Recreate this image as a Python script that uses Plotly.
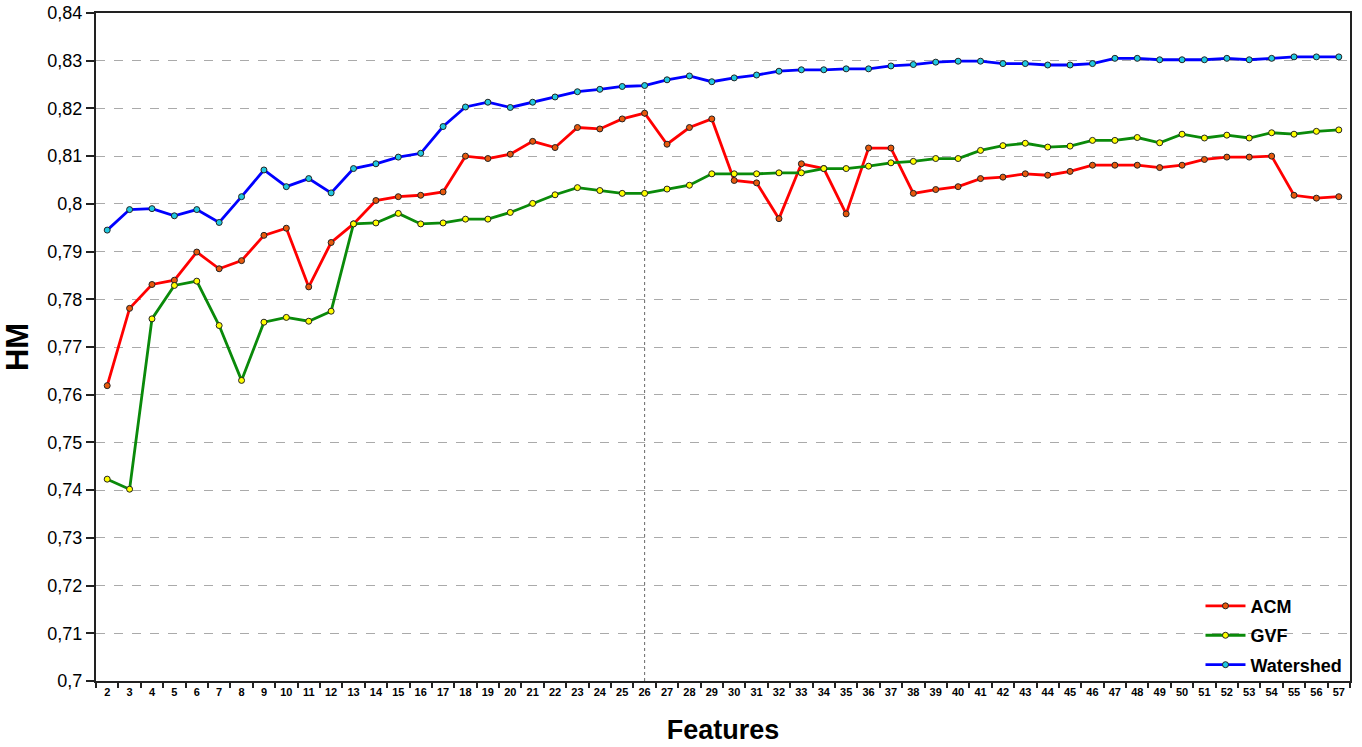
import plotly.graph_objects as go

features = [str(n) for n in range(2, 58)]

acm = [0.7619, 0.7781, 0.7831, 0.7840, 0.7899, 0.7864, 0.7881, 0.7934, 0.7949, 0.7826,
       0.7919, 0.7958, 0.8007, 0.8015, 0.8018, 0.8025, 0.8100, 0.8095, 0.8104, 0.8131,
       0.8118, 0.8160, 0.8157, 0.8178, 0.8190, 0.8125, 0.8160, 0.8178, 0.8049, 0.8044,
       0.7969, 0.8084, 0.8074, 0.7979, 0.8117, 0.8117, 0.8022, 0.8030, 0.8036, 0.8053,
       0.8056, 0.8063, 0.8060, 0.8068, 0.8081, 0.8081, 0.8081, 0.8076, 0.8081, 0.8093,
       0.8098, 0.8098, 0.8100, 0.8018, 0.8012, 0.8015]

gvf = [0.7423, 0.7402, 0.7759, 0.7829, 0.7838, 0.7745, 0.7630, 0.7752, 0.7762, 0.7754,
       0.7775, 0.7958, 0.7960, 0.7980, 0.7958, 0.7960, 0.7968, 0.7968, 0.7982, 0.8001,
       0.8019, 0.8034, 0.8028, 0.8022, 0.8022, 0.8031, 0.8039, 0.8063, 0.8063, 0.8063,
       0.8065, 0.8065, 0.8074, 0.8074, 0.8079, 0.8086, 0.8089, 0.8095, 0.8095, 0.8112,
       0.8122, 0.8127, 0.8119, 0.8121, 0.8133, 0.8133, 0.8139, 0.8128, 0.8146, 0.8138,
       0.8144, 0.8138, 0.8149, 0.8146, 0.8152, 0.8155]

watershed = [0.7945, 0.7988, 0.7990, 0.7975, 0.7988, 0.7961, 0.8015, 0.8071, 0.8036, 0.8053,
             0.8023, 0.8074, 0.8084, 0.8098, 0.8106, 0.8162, 0.8203, 0.8213, 0.8202, 0.8213,
             0.8224, 0.8235, 0.8240, 0.8246, 0.8248, 0.8260, 0.8268, 0.8256, 0.8264, 0.8270,
             0.8278, 0.8281, 0.8281, 0.8283, 0.8283, 0.8289, 0.8292, 0.8297, 0.8299, 0.8299,
             0.8294, 0.8294, 0.8291, 0.8291, 0.8294, 0.8305, 0.8305, 0.8302, 0.8302, 0.8302,
             0.8305, 0.8302, 0.8305, 0.8308, 0.8308, 0.8308]

y_ticks = [0.70, 0.71, 0.72, 0.73, 0.74, 0.75, 0.76, 0.77, 0.78, 0.79, 0.80,
           0.81, 0.82, 0.83, 0.84]
y_labels = ["0,7", "0,71", "0,72", "0,73", "0,74", "0,75", "0,76", "0,77", "0,78",
            "0,79", "0,8", "0,81", "0,82", "0,83", "0,84"]

marked_feature = "26"

series = [
    ("ACM", acm, "#ff0000", "#e8590c"),
    ("GVF", gvf, "#0a8a0a", "#ffff00"),
    ("Watershed", watershed, "#0000ff", "#20c8e0"),
]

fig = go.Figure()
for name, vals, lc, mc in series:
    fig.add_trace(go.Scatter(
        x=features, y=vals, name=name, mode="lines+markers",
        legendgroup=name,
        line=dict(color=lc, width=2.8),
        marker=dict(size=6, color=mc, line=dict(color="#222222", width=1)),
    ))

idx = features.index(marked_feature)
fig.add_shape(type="line", xref="x", yref="y",
              x0=idx, x1=idx, y0=y_ticks[0], y1=watershed[idx],
              line=dict(color="#666666", width=1, dash="dot"), layer="below")

fig.update_layout(
    width=1362, height=747,
    margin=dict(l=96, r=12, t=13, b=66, autoexpand=False),
    paper_bgcolor="white", plot_bgcolor="white",
    showlegend=True,
    legend=dict(
        x=0.998, y=-0.004, xanchor="right", yanchor="bottom",
        font=dict(family="Liberation Sans, Arial", size=18, color="#000000",
                  weight="bold"),
        bgcolor="rgba(255,255,255,0)",
        traceorder="grouped", tracegroupgap=3,
        itemwidth=40,
    ),
    xaxis=dict(
        type="category",
        range=[-0.5, len(features) - 0.5],
        tickson="boundaries",
        tickangle=0, automargin=False,
        ticks="outside", ticklen=5, tickwidth=1.5, tickcolor="#222222",
        tickfont=dict(family="Liberation Sans Narrow, Liberation Sans, Arial", size=11,
                      color="#000000", weight="bold"),
        showgrid=False,
        showline=True, linecolor="#222222", linewidth=2, mirror=True,
        title=dict(text="<b>Features</b>", font=dict(family="Liberation Sans, Arial",
                                                     size=27, color="#000000"),
                   standoff=23),
    ),
    yaxis=dict(
        range=[0.70, 0.84], automargin=False,
        tickvals=y_ticks, ticktext=y_labels,
        ticks="outside", ticklen=8, tickwidth=1.5, tickcolor="#222222",
        tickfont=dict(family="Liberation Sans, Arial", size=18, color="#000000"),
        showgrid=True, gridcolor="#aaaaaa", gridwidth=1, griddash="dash",
        zeroline=False,
        showline=True, linecolor="#222222", linewidth=2, mirror=True,
        title=dict(text="<b>HM</b>", font=dict(family="Liberation Sans, Arial",
                                               size=31, color="#000000"),
                   standoff=10),
    ),
)

fig.write_html("out.html", config={"displayModeBar": False},
               post_script="document.body.style.margin='0';document.body.style.overflow='hidden';")
